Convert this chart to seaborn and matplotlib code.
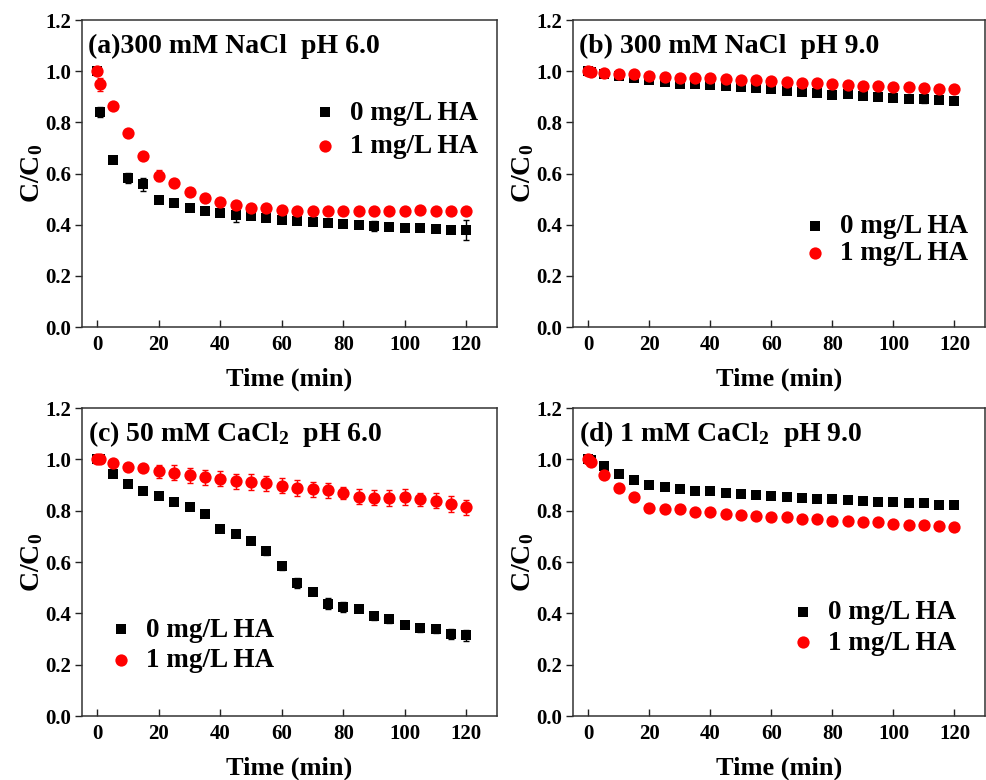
import numpy as np
import pandas as pd
import matplotlib
matplotlib.use("Agg")
import matplotlib.pyplot as plt
import seaborn as sns

sns.set_theme(style="ticks")
plt.rcParams['font.family'] = ['Liberation Serif', 'DejaVu Serif']
plt.rcParams['font.weight'] = 'bold'
plt.rcParams['text.color'] = 'black'
plt.rcParams['axes.labelcolor'] = 'black'
plt.rcParams['xtick.color'] = 'black'
plt.rcParams['ytick.color'] = 'black'
plt.rcParams['mathtext.fontset'] = 'custom'
plt.rcParams['mathtext.rm'] = 'Liberation Serif:bold'
plt.rcParams['mathtext.bf'] = 'Liberation Serif:bold'
plt.rcParams['mathtext.it'] = 'Liberation Serif:bold'

time = [0, 1, 5, 10, 15, 20, 25, 30, 35, 40, 45, 50, 55, 60, 65, 70, 75, 80, 85, 90, 95, 100, 105, 110, 115, 120]

a_ha0 = [1.0, 0.839, 0.654, 0.582, 0.558, 0.497, 0.486, 0.464, 0.452, 0.444, 0.439, 0.435, 0.426, 0.418, 0.416, 0.412,
         0.405, 0.401, 0.397, 0.395, 0.391, 0.388, 0.386, 0.383, 0.381, 0.379]
a_ha0_err = [0.005, 0.02, 0.005, 0.02, 0.025, 0.01, 0.005, 0.005, 0.005, 0.01, 0.03, 0.01, 0.01, 0.01, 0.005, 0.005,
             0.005, 0.005, 0.005, 0.02, 0.005, 0.005, 0.005, 0.005, 0.005, 0.04]
a_ha1 = [1.0, 0.948, 0.865, 0.758, 0.667, 0.592, 0.562, 0.528, 0.503, 0.489, 0.476, 0.467, 0.467, 0.458, 0.454, 0.452,
         0.452, 0.452, 0.452, 0.452, 0.452, 0.452, 0.458, 0.454, 0.454, 0.454]
a_ha1_err = [0.005, 0.025, 0.005, 0.005, 0.005, 0.02, 0.005, 0.015, 0.005, 0.005, 0.005, 0.01, 0.01, 0.005, 0.005, 0.005,
             0.005, 0.005, 0.005, 0.005, 0.005, 0.005, 0.005, 0.005, 0.005, 0.005]

b_ha0 = [1.0, 0.997, 0.99, 0.98, 0.975, 0.966, 0.958, 0.951, 0.949, 0.944, 0.942, 0.938, 0.933, 0.929, 0.924, 0.919,
         0.916, 0.908, 0.91, 0.902, 0.9, 0.895, 0.893, 0.892, 0.889, 0.885]
b_ha0_err = [0.005, 0.005, 0.005, 0.005, 0.005, 0.005, 0.005, 0.005, 0.005, 0.005, 0.005, 0.005, 0.012, 0.005, 0.005, 0.005,
             0.005, 0.005, 0.005, 0.005, 0.005, 0.005, 0.005, 0.015, 0.01, 0.005]
b_ha1 = [1.0, 0.997, 0.993, 0.99, 0.987, 0.982, 0.979, 0.974, 0.975, 0.973, 0.97, 0.966, 0.964, 0.96, 0.958, 0.955,
         0.952, 0.949, 0.946, 0.942, 0.942, 0.94, 0.937, 0.935, 0.932, 0.932]
b_ha1_err = [0.005] * 26

c_ha0 = [1.0, 1.0, 0.942, 0.905, 0.878, 0.856, 0.834, 0.814, 0.788, 0.729, 0.708, 0.682, 0.641, 0.584, 0.517, 0.485,
         0.438, 0.424, 0.416, 0.388, 0.377, 0.356, 0.344, 0.338, 0.32, 0.314]
c_ha0_err = [0.005, 0.005, 0.005, 0.005, 0.005, 0.005, 0.005, 0.005, 0.01, 0.005, 0.005, 0.01, 0.015, 0.015, 0.02, 0.015,
             0.02, 0.02, 0.01, 0.015, 0.015, 0.015, 0.015, 0.015, 0.02, 0.02]
c_ha1 = [1.0, 1.0, 0.987, 0.971, 0.965, 0.953, 0.948, 0.938, 0.93, 0.925, 0.914, 0.912, 0.906, 0.897, 0.888, 0.883,
         0.879, 0.869, 0.855, 0.851, 0.85, 0.853, 0.844, 0.839, 0.826, 0.813]
c_ha1_err = [0.005, 0.005, 0.01, 0.01, 0.01, 0.025, 0.03, 0.03, 0.03, 0.03, 0.03, 0.03, 0.03, 0.03, 0.03, 0.03,
             0.03, 0.025, 0.03, 0.03, 0.03, 0.03, 0.025, 0.03, 0.03, 0.03]

d_ha0 = [1.0, 0.997, 0.974, 0.942, 0.918, 0.899, 0.891, 0.883, 0.877, 0.878, 0.87, 0.865, 0.86, 0.856, 0.855, 0.849,
         0.847, 0.846, 0.84, 0.838, 0.834, 0.833, 0.829, 0.828, 0.824, 0.822]
d_ha0_err = [0.005] * 26
d_ha1 = [1.0, 0.99, 0.938, 0.888, 0.852, 0.809, 0.805, 0.805, 0.795, 0.796, 0.787, 0.783, 0.781, 0.777, 0.774, 0.769,
         0.767, 0.76, 0.758, 0.754, 0.754, 0.748, 0.744, 0.743, 0.742, 0.736]
d_ha1_err = [0.005] * 26

titles = ["(a)300 mM NaCl  pH 6.0", "(b) 300 mM NaCl  pH 9.0",
          "(c) 50 mM CaCl$_\\mathbf{2}$  pH 6.0", "(d) 1 mM CaCl$_\\mathbf{2}$  pH 9.0"]
labels = ["0 mg/L HA", "1 mg/L HA"]
x_ticks = [0, 20, 40, 60, 80, 100, 120]
y_ticks = [0.0, 0.2, 0.4, 0.6, 0.8, 1.0, 1.2]

panels = [
    (a_ha0, a_ha0_err, a_ha1, a_ha1_err),
    (b_ha0, b_ha0_err, b_ha1, b_ha1_err),
    (c_ha0, c_ha0_err, c_ha1, c_ha1_err),
    (d_ha0, d_ha0_err, d_ha1, d_ha1_err),
]

W, H = 987, 780
fig = plt.figure(figsize=(W / 100, H / 100), dpi=100)
rects = [
    (82, 20, 497, 327),
    (573, 20, 985, 327),
    (82, 408, 497, 716),
    (573, 408, 985, 716),
]
legend_pos = [(0.553, 0.643, 0.3), (0.555, 0.283, 0.06), (0.061, 0.23, 0.19), (0.525, 0.287, 0.22)]

for i, (rect, data) in enumerate(zip(rects, panels)):
    l, t, r, b = rect
    ax = fig.add_axes([l / W, 1 - b / H, (r - l) / W, (b - t) / H])
    y0, e0, y1, e1 = data
    df = pd.DataFrame({"Time": time, "y0": y0, "e0": e0, "y1": y1, "e1": e1})
    ax.errorbar(df["Time"], df["y0"], yerr=df["e0"], fmt="none", ecolor="black", elinewidth=1.0, capsize=2.5,
                capthick=1.0, zorder=2)
    sns.scatterplot(data=df, x="Time", y="y0", marker="s", color="black", s=62, linewidth=0, ax=ax,
                    label=labels[0], zorder=3)
    ax.errorbar(df["Time"], df["y1"], yerr=df["e1"], fmt="none", ecolor="red", elinewidth=1.0, capsize=2.5,
                capthick=1.0, zorder=4)
    sns.scatterplot(data=df, x="Time", y="y1", marker="o", color="red", s=78, linewidth=0, ax=ax,
                    label=labels[1], zorder=5)

    ax.set_xlim(-5, 130)
    ax.set_ylim(0, 1.2)
    ax.set_xticks(x_ticks)
    ax.set_yticks(y_ticks)
    ax.set_yticklabels([f"{v:.1f}" for v in y_ticks])
    ax.tick_params(axis="x", direction="in", length=5, width=1, labelsize=15, pad=6, colors="#222222",
                   labelcolor="black")
    ax.tick_params(axis="y", direction="out", length=5, width=1, labelsize=15, pad=3, colors="#222222",
                   labelcolor="black")
    for lab in ax.get_xticklabels() + ax.get_yticklabels():
        lab.set_fontweight("bold")
    for sp in ax.spines.values():
        sp.set_visible(True)
        sp.set_color("#333333")
        sp.set_linewidth(1.1)
    ax.set_xlabel("Time (min)", fontsize=19, fontweight="bold", labelpad=9, color="black")
    ax.set_ylabel("C/C$_\\mathbf{0}$", fontsize=20, fontweight="bold", labelpad=0, color="black")
    ax.text(0.014, 0.915, titles[i], transform=ax.transAxes, fontsize=20, fontweight="bold",
            va="center", ha="left", color="black")
    lx, ly, ls = legend_pos[i]
    leg = ax.legend(loc="center left", bbox_to_anchor=(lx, ly), frameon=False,
                    handlelength=1.0, handletextpad=0.43, borderpad=0, borderaxespad=0, labelspacing=ls,
                    prop={"weight": "bold", "size": 19.5}, markerscale=1.0)
    for txt in leg.get_texts():
        txt.set_color("black")

fig.savefig("out.png", dpi=100)
